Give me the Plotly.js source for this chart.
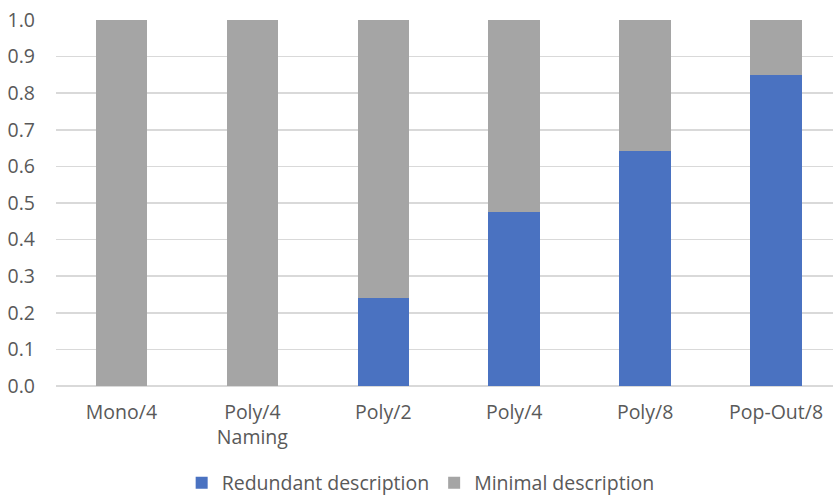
<!DOCTYPE html>
<html>
<head>
<meta charset="utf-8">
<script src="https://cdn.plot.ly/plotly-3.0.1.min.js"></script>
<style>
  html, body { margin: 0; padding: 0; background: #ffffff; }
  #chart { width: 833px; height: 499px; }
</style>
</head>
<body>
<div id="chart"></div>
<script>
// Share of descriptions per condition
const categories = ['Mono/4', 'Poly/4<br>Naming', 'Poly/2', 'Poly/4', 'Poly/8', 'Pop-Out/8'];
const redundant = [0, 0, 0.24, 0.475, 0.642, 0.85];
const minimal = [1, 1, 0.76, 0.525, 0.358, 0.15];
const yTicks = [0, 0.1, 0.2, 0.3, 0.4, 0.5, 0.6, 0.7, 0.8, 0.9, 1.0];

const textColor = '#595959';
const gridColor = '#d9d9d9';
const fontFamily = '"Open Sans", "Noto Sans", sans-serif';

const xIdx = categories.map((_, i) => i);

const traces = [
  {
    type: 'bar',
    name: 'Redundant description',
    x: xIdx,
    y: redundant,
    marker: { color: '#4a72c1' },
    hoverinfo: 'skip'
  },
  {
    type: 'bar',
    name: 'Minimal description',
    x: xIdx,
    y: minimal,
    marker: { color: '#a5a5a5' },
    hoverinfo: 'skip'
  }
];

const layout = {
  width: 833,
  height: 499,
  margin: { l: 56, r: 0, t: 20, b: 113, autoexpand: false },
  paper_bgcolor: '#ffffff',
  plot_bgcolor: '#ffffff',
  barmode: 'stack',
  bargap: 0.606,
  showlegend: true,
  font: { family: fontFamily, size: 19.5, color: textColor },
  xaxis: {
    range: [-0.5, 5.435],
    tickmode: 'array',
    tickvals: xIdx,
    ticktext: categories,
    showgrid: false,
    zeroline: false,
    showline: false,
    ticks: '',
    automargin: false,
    ticklabelstandoff: 12,
    tickfont: { family: fontFamily, size: 19.5, color: textColor }
  },
  yaxis: {
    range: [0, 1],
    tickmode: 'array',
    tickvals: yTicks,
    ticktext: yTicks.map(v => v.toFixed(1)),
    showgrid: true,
    gridcolor: gridColor,
    gridwidth: 1.5,
    zeroline: true,
    zerolinecolor: gridColor,
    zerolinewidth: 1.5,
    showline: false,
    ticks: '',
    automargin: false,
    ticklabelstandoff: 20,
    tickfont: { family: fontFamily, size: 19.5, color: textColor }
  },
  legend: {
    orientation: 'h',
    xref: 'container',
    yref: 'container',
    x: 0.505,
    xanchor: 'center',
    y: 0.032,
    yanchor: 'middle',
    font: { family: fontFamily, size: 19.5, color: textColor },
    itemwidth: 30,
    traceorder: 'normal'
  }
};

Plotly.newPlot('chart', traces, layout, { displayModeBar: false, staticPlot: true });
</script>
</body>
</html>
